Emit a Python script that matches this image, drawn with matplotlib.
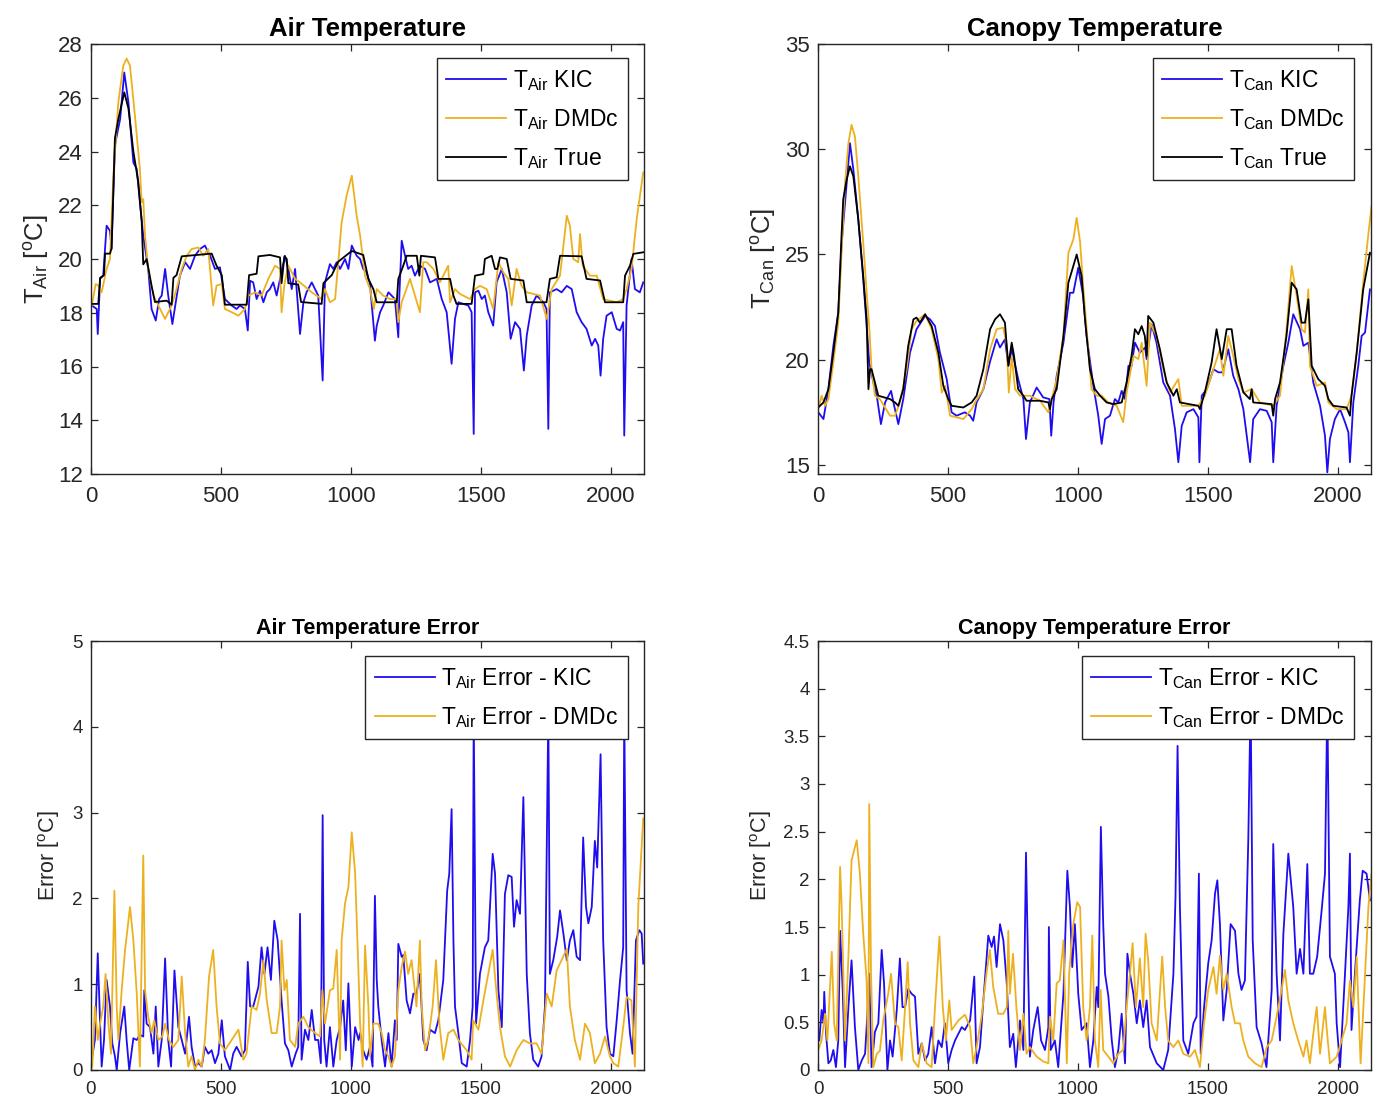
import numpy as np
import matplotlib
matplotlib.use('Agg')
import matplotlib.pyplot as plt

plt.rcParams['font.family'] = ['Liberation Sans', 'DejaVu Sans']
plt.rcParams['mathtext.fontset'] = 'custom'
plt.rcParams['mathtext.rm'] = 'Liberation Sans'

BLUE = '#1f0df0'
ORANGE = '#edb120'
AXC = '#262626'

# ---------------- air temperature ----------------
air_true_x = [0, 28, 35, 50, 54, 73, 79, 92, 105, 128, 144, 163, 182, 195, 201, 214, 233, 246, 291, 310, 317, 329, 349,
              464, 483, 503, 515, 599, 608, 637, 644, 688, 727, 733, 744, 753, 759, 797, 808, 887, 894, 926, 951, 1003,
              1047, 1067, 1086, 1099, 1176, 1182, 1201, 1214, 1253, 1263, 1269, 1323, 1336, 1381, 1394, 1406, 1464,
              1477, 1509, 1515, 1541, 1554, 1563, 1573, 1599, 1614, 1663, 1676, 1752, 1765, 1791, 1804, 1887, 1906,
              1958, 1977, 2047, 2054, 2073, 2086, 2124]
air_true = [18.33, 18.33, 19.3, 19.4, 20.2, 20.2, 20.4, 24.5, 25.2, 26.2, 25.6, 24.0, 22.85, 21.4, 19.8, 20.0, 19.0,
            18.4, 18.45, 18.3, 19.3, 19.4, 20.1, 20.2, 19.75, 19.4, 18.3, 18.3, 19.4, 19.45, 20.1, 20.15, 20.06, 19.1,
            20.1, 20.0, 19.1, 19.05, 18.4, 18.33, 19.1, 19.4, 19.9, 20.3, 20.15, 19.26, 18.88, 18.39, 18.39, 19.26,
            19.75, 20.12, 20.12, 19.38, 20.12, 20.06, 19.26, 19.26, 18.64, 18.33, 18.33, 19.38, 19.44, 20.0, 20.12,
            19.63, 19.63, 20.06, 20.0, 19.26, 19.2, 18.39, 18.39, 19.26, 19.32, 20.12, 20.1, 19.26, 19.2, 18.39, 18.39,
            19.38, 19.75, 20.19, 20.25]

air_kic_x = [3, 22, 26, 35, 47, 60, 73, 79, 92, 99, 112, 128, 144, 163, 176, 188, 201, 220, 233, 249, 262, 272, 285,
             297, 313, 326, 342, 362, 381, 400, 419, 438, 458, 477, 496, 515, 541, 560, 573, 592, 603, 612, 624, 637,
             650, 663, 676, 688, 701, 714, 727, 746, 759, 772, 785, 804, 817, 829, 849, 874, 891, 900, 919, 932, 945,
             958, 977, 990, 1003, 1022, 1035, 1047, 1060, 1073, 1092, 1099, 1112, 1124, 1144, 1156, 1169, 1182, 1186,
             1195, 1208, 1220, 1233, 1246, 1265, 1285, 1304, 1330, 1349, 1368, 1387, 1400, 1413, 1432, 1451, 1464,
             1472, 1477, 1490, 1503, 1515, 1528, 1547, 1560, 1580, 1599, 1614, 1631, 1650, 1665, 1676, 1695, 1714,
             1740, 1752, 1759, 1765, 1791, 1810, 1830, 1849, 1868, 1887, 1906, 1926, 1939, 1951, 1960, 1970, 1983,
             2003, 2022, 2035, 2047, 2051, 2060, 2079, 2092, 2111, 2124]
air_kic = [18.27, 18.14, 17.21, 19.26, 19.38, 21.24, 21.05, 20.37, 24.21, 24.58, 25.2, 26.94, 25.82, 23.59, 23.35,
           22.11, 20.87, 19.63, 18.14, 17.71, 18.51, 18.64, 19.63, 18.64, 17.58, 18.39, 19.38, 19.88, 19.63, 20.12,
           20.37, 20.5, 20.12, 19.63, 19.69, 18.51, 18.27, 18.14, 18.27, 18.14, 17.34, 19.19, 19.13, 18.51, 18.82,
           18.39, 18.76, 18.88, 19.13, 18.64, 19.26, 20.12, 19.63, 18.88, 19.63, 17.21, 18.39, 18.76, 19.13, 18.64,
           15.48, 19.13, 19.81, 19.63, 19.88, 19.63, 20.0, 19.63, 20.5, 20.12, 20.0, 19.63, 19.5, 19.07, 16.96, 17.52,
           18.02, 18.27, 18.76, 18.64, 18.51, 17.09, 18.64, 20.68, 20.12, 19.63, 19.75, 19.38, 19.75, 19.63, 19.13,
           19.26, 18.51, 18.02, 16.1, 17.77, 18.39, 18.33, 18.27, 18.02, 13.49, 18.76, 18.82, 18.51, 18.64, 18.02,
           17.52, 19.13, 19.63, 18.76, 17.03, 17.65, 17.4, 15.85, 17.15, 18.27, 18.64, 18.39, 18.14, 13.68, 18.76,
           18.88, 18.76, 19.0, 18.88, 18.02, 17.65, 17.4, 16.78, 17.03, 16.78, 15.66, 17.03, 17.89, 18.02, 17.4,
           17.34, 17.65, 13.43, 18.27, 20.0, 18.88, 18.76, 19.13]

air_dmdc_x = [3, 18, 28, 41, 60, 73, 86, 105, 124, 137, 150, 169, 188, 195, 201, 208, 220, 240, 259, 285, 310, 329,
              349, 368, 387, 413, 432, 451, 470, 483, 503, 515, 541, 567, 592, 605, 631, 656, 682, 708, 727, 733, 744,
              759, 785, 804, 849, 887, 900, 919, 939, 964, 983, 1003, 1022, 1035, 1054, 1073, 1088, 1099, 1124, 1150,
              1176, 1182, 1195, 1227, 1246, 1265, 1278, 1291, 1317, 1342, 1374, 1381, 1400, 1419, 1458, 1477, 1496,
              1522, 1547, 1567, 1586, 1605, 1618, 1637, 1656, 1676, 1727, 1753, 1772, 1804, 1830, 1842, 1855, 1874,
              1881, 1891, 1919, 1945, 1970, 2022, 2047, 2060, 2079, 2099, 2124]
air_dmdc = [18.27, 19.07, 19.01, 18.76, 19.63, 20.0, 23.1, 25.82, 27.19, 27.46, 27.19, 25.33, 23.35, 22.11, 22.23,
            20.87, 19.63, 18.64, 18.27, 17.77, 18.27, 18.88, 19.63, 20.12, 20.37, 20.43, 20.12, 20.37, 18.27, 19.01,
            19.07, 18.14, 18.02, 17.89, 18.14, 18.64, 18.76, 18.64, 19.26, 19.75, 19.63, 18.02, 19.07, 19.75, 19.26,
            19.13, 18.76, 18.51, 18.88, 18.39, 18.51, 21.36, 22.35, 23.1, 21.6, 20.87, 19.38, 18.88, 18.14, 18.88,
            18.64, 18.51, 18.51, 17.65, 18.39, 19.26, 18.64, 18.02, 19.88, 19.88, 19.63, 19.13, 19.75, 18.39, 18.88,
            18.7, 18.51, 18.88, 19.0, 18.88, 18.14, 19.88, 19.5, 19.26, 18.27, 19.63, 19.0, 18.76, 18.64, 17.77,
            18.88, 19.38, 21.61, 21.24, 20.0, 19.88, 20.93, 19.75, 19.38, 19.38, 18.51, 18.39, 18.51, 18.88, 19.63,
            21.49, 23.22]

# ---------------- canopy temperature ----------------
can_true_x = [1, 21, 40, 59, 78, 91, 97, 110, 123, 136, 155, 174, 187, 194, 200, 206, 219, 232, 277, 296, 309, 328,
              347, 367, 379, 392, 412, 437, 463, 482, 501, 514, 559, 591, 610, 636, 662, 681, 700, 719, 732, 745, 754,
              770, 790, 802, 854, 886, 892, 899, 918, 944, 963, 982, 995, 1014, 1027, 1046, 1065, 1085, 1110, 1136,
              1168, 1187, 1206, 1219, 1232, 1245, 1257, 1264, 1270, 1290, 1315, 1341, 1367, 1380, 1392, 1463, 1469,
              1488, 1514, 1533, 1553, 1572, 1591, 1610, 1636, 1661, 1668, 1674, 1745, 1751, 1758, 1777, 1802, 1822,
              1841, 1860, 1873, 1886, 1899, 1924, 1950, 1963, 1982, 2033, 2046, 2052, 2072, 2097, 2123]
can_true = [17.73, 17.97, 18.6, 20.34, 22.24, 26.03, 27.61, 28.55, 29.19, 28.71, 26.66, 23.97, 21.92, 18.6, 19.55,
            19.55, 18.92, 18.29, 18.13, 17.97, 17.81, 18.6, 20.66, 21.92, 22.0, 21.76, 22.16, 21.6, 20.34, 18.76,
            18.13, 17.81, 17.73, 17.97, 18.29, 19.55, 21.45, 21.92, 22.16, 21.76, 19.71, 20.81, 20.18, 18.6, 18.29,
            18.05, 18.05, 17.97, 17.65, 18.13, 18.6, 21.13, 23.66, 24.45, 25.0, 23.97, 21.92, 19.55, 18.6, 18.29,
            17.97, 17.89, 17.97, 18.92, 20.18, 21.45, 21.21, 21.6, 21.13, 20.18, 22.08, 21.76, 20.5, 18.92, 18.29,
            18.6, 17.97, 17.81, 17.65, 18.45, 19.87, 21.45, 20.03, 21.45, 21.45, 19.71, 18.45, 18.13, 18.6, 17.97,
            17.89, 17.34, 18.13, 18.92, 21.13, 23.66, 23.34, 21.76, 21.76, 22.87, 19.71, 19.08, 18.76, 18.13, 17.81,
            17.73, 17.34, 18.29, 20.34, 23.34, 25.08]

can_kic_x = [1, 21, 40, 59, 78, 91, 104, 123, 136, 155, 174, 190, 197, 213, 226, 242, 258, 281, 293, 309, 328, 354,
             379, 412, 431, 450, 469, 495, 514, 533, 565, 585, 597, 610, 636, 662, 687, 700, 719, 732, 745, 770, 790,
             800, 815, 841, 866, 890, 897, 906, 918, 944, 969, 982, 1001, 1020, 1033, 1059, 1078, 1091, 1104, 1123,
             1142, 1155, 1168, 1181, 1194, 1206, 1219, 1238, 1258, 1264, 1283, 1302, 1328, 1354, 1373, 1386, 1399,
             1418, 1444, 1463, 1467, 1476, 1495, 1521, 1540, 1556, 1578, 1597, 1617, 1636, 1662, 1674, 1700, 1726,
             1745, 1751, 1764, 1790, 1809, 1828, 1854, 1867, 1886, 1905, 1931, 1950, 1959, 1969, 1988, 2008, 2027,
             2040, 2046, 2059, 2078, 2091, 2104, 2123]
can_kic = [17.5, 17.18, 18.6, 20.66, 22.24, 25.55, 27.45, 30.29, 29.03, 26.66, 23.82, 21.13, 19.87, 18.92, 18.29,
           16.94, 17.97, 18.52, 17.81, 16.94, 18.13, 20.34, 21.45, 22.08, 21.92, 21.6, 20.34, 19.08, 17.5, 17.34,
           17.5, 17.34, 17.1, 17.97, 18.6, 19.92, 20.97, 20.58, 20.97, 19.71, 20.5, 19.08, 18.13, 16.23, 17.97, 18.68,
           18.21, 18.13, 16.39, 17.97, 19.23, 20.81, 23.18, 23.18, 24.37, 23.03, 21.13, 18.76, 17.34, 16.0, 17.18,
           17.34, 18.13, 17.97, 18.52, 18.13, 19.71, 19.71, 20.81, 20.34, 20.58, 20.03, 21.68, 20.81, 18.92, 18.29,
           16.71, 15.13, 16.86, 17.5, 17.65, 17.26, 15.13, 18.29, 18.6, 19.55, 19.4, 19.4, 20.5, 19.24, 18.6, 17.65,
           15.13, 17.18, 17.65, 17.57, 17.03, 15.13, 17.81, 19.71, 20.81, 22.16, 21.45, 20.66, 20.81, 18.92, 17.81,
           16.39, 14.65, 16.23, 17.18, 17.65, 17.03, 16.55, 15.13, 17.97, 19.71, 21.13, 21.29, 23.34]

can_dmdc_x = [1, 14, 27, 40, 59, 78, 91, 104, 117, 129, 142, 155, 174, 190, 197, 206, 219, 238, 277, 296, 315, 341,
              360, 379, 412, 437, 463, 476, 489, 508, 559, 591, 604, 636, 662, 687, 713, 726, 734, 745, 758, 777, 815,
              854, 886, 918, 944, 963, 982, 995, 1008, 1020, 1033, 1052, 1072, 1091, 1117, 1149, 1174, 1187, 1213,
              1232, 1245, 1264, 1277, 1302, 1328, 1354, 1386, 1399, 1463, 1488, 1521, 1546, 1559, 1578, 1597, 1617,
              1636, 1668, 1700, 1751, 1777, 1802, 1822, 1841, 1860, 1873, 1886, 1892, 1918, 1950, 1963, 1995, 2033,
              2052, 2072, 2097, 2116, 2129]
can_dmdc = [17.65, 18.29, 17.81, 18.13, 19.87, 21.76, 25.24, 28.4, 30.29, 31.16, 30.61, 28.71, 25.55, 22.71, 21.6,
            19.55, 18.29, 18.13, 17.34, 17.34, 17.97, 19.55, 21.45, 21.84, 22.16, 21.45, 20.03, 18.44, 18.76, 17.34,
            17.18, 17.65, 17.97, 18.6, 20.5, 21.45, 21.52, 20.66, 18.44, 20.18, 18.6, 18.29, 18.29, 18.05, 17.5,
            19.08, 21.13, 25.08, 25.71, 26.74, 25.6, 23.5, 21.5, 18.6, 18.29, 18.29, 17.97, 17.81, 17.03, 18.44,
            20.18, 20.03, 20.81, 18.76, 21.76, 21.13, 19.55, 18.44, 19.08, 17.81, 17.81, 18.29, 19.55, 20.5, 19.24,
            21.13, 20.18, 19.08, 18.44, 18.6, 17.97, 17.81, 18.29, 21.45, 24.45, 23.03, 21.45, 21.29, 23.34, 19.71,
            18.76, 18.92, 17.97, 17.65, 17.65, 18.29, 20.34, 23.66, 25.87, 27.29]

# ---------------- air temperature error ----------------
air_err_kic_x = [5, 15, 26, 35, 41, 50, 60, 73, 82, 92, 99, 112, 128, 137, 147, 163, 176, 188, 201, 205, 214, 227,
                 240, 249, 259, 272, 285, 297, 308, 321, 336, 349, 362, 377, 387, 400, 413, 426, 438, 451, 464, 477,
                 490, 503, 515, 535, 547, 560, 579, 592, 603, 612, 624, 644, 656, 667, 679, 692, 705, 718, 733, 746,
                 759, 772, 787, 797, 804, 810, 823, 836, 849, 862, 874, 884, 891, 897, 906, 919, 932, 945, 958, 970,
                 980, 990, 1003, 1016, 1029, 1035, 1047, 1060, 1073, 1083, 1092, 1099, 1105, 1118, 1131, 1144, 1156,
                 1169, 1176, 1182, 1195, 1201, 1214, 1227, 1240, 1252, 1265, 1278, 1291, 1304, 1323, 1336, 1355, 1370,
                 1378, 1387, 1394, 1400, 1413, 1426, 1445, 1458, 1468, 1472, 1481, 1496, 1515, 1528, 1545, 1554, 1567,
                 1580, 1592, 1605, 1618, 1627, 1637, 1650, 1663, 1676, 1688, 1701, 1720, 1733, 1746, 1759, 1765, 1778,
                 1793, 1804, 1817, 1830, 1842, 1855, 1868, 1881, 1893, 1904, 1913, 1926, 1938, 1947, 1960, 1970, 1983,
                 1996, 2009, 2022, 2035, 2047, 2051, 2060, 2073, 2083, 2096, 2109, 2118, 2124]
air_err_kic = [0.16, 0.35, 1.36, 0.54, 0.04, 0.35, 1.05, 0.74, 0.31, 0.16, 0.0, 0.43, 0.74, 0.35, 0.0, 0.37, 0.35,
               0.41, 0.39, 0.93, 0.54, 0.5, 0.19, 0.74, 0.04, 0.35, 1.3, 0.35, 0.04, 1.16, 0.5, 0.35, 0.19, 0.62,
               0.27, 0.04, 0.08, 0.04, 0.27, 0.19, 0.23, 0.08, 0.19, 0.58, 0.16, 0.0, 0.19, 0.27, 0.16, 0.23, 1.26,
               0.74, 0.74, 0.97, 1.43, 1.12, 1.43, 1.05, 1.74, 1.51, 0.81, 0.31, 0.23, 0.04, 0.19, 0.27, 1.82, 0.12,
               0.47, 0.35, 0.7, 0.35, 0.35, 0.08, 2.97, 0.35, 0.04, 0.5, 0.04, 0.35, 0.5, 0.81, 0.23, 1.01, 0.04, 0.5,
               0.35, 0.43, 0.23, 0.12, 0.27, 0.04, 2.03, 1.05, 0.74, 0.35, 0.04, 0.43, 0.04, 0.58, 0.35, 1.47, 1.32,
               1.34, 0.81, 0.66, 0.89, 0.89, 1.12, 0.35, 0.23, 0.47, 0.43, 0.58, 1.05, 2.09, 2.29, 3.04, 1.51, 0.74,
               0.43, 0.08, 0.04, 0.35, 0.74, 4.2, 0.54, 1.12, 1.43, 1.51, 2.52, 2.29, 0.93, 0.5, 2.05, 2.27, 2.25,
               1.67, 1.98, 1.82, 3.18, 1.12, 0.43, 0.12, 0.04, 0.16, 0.74, 4.2, 1.12, 1.28, 1.55, 1.86, 1.59, 1.28,
               1.51, 1.63, 1.32, 1.28, 2.71, 1.9, 1.71, 1.9, 2.67, 2.36, 3.68, 1.51, 0.5, 0.19, 0.16, 0.58, 1.05,
               1.43, 4.2, 0.93, 0.43, 0.19, 1.51, 1.63, 1.59, 1.24]

air_err_dmdc_x = [5, 15, 26, 35, 47, 56, 67, 77, 90, 99, 105, 118, 131, 150, 163, 176, 188, 201, 208, 220, 233, 243,
                  259, 274, 285, 300, 317, 336, 349, 362, 374, 387, 400, 413, 426, 438, 454, 470, 483, 496, 515, 541,
                  567, 586, 598, 618, 637, 650, 663, 676, 695, 714, 727, 733, 744, 753, 765, 785, 797, 817, 836, 862,
                  881, 890, 900, 919, 932, 945, 958, 964, 977, 990, 1003, 1016, 1029, 1035, 1045, 1054, 1067, 1073,
                  1086, 1105, 1118, 1131, 1144, 1156, 1169, 1182, 1195, 1208, 1220, 1233, 1252, 1265, 1272, 1285,
                  1297, 1314, 1327, 1340, 1355, 1374, 1394, 1413, 1445, 1464, 1470, 1490, 1509, 1528, 1545, 1560,
                  1573, 1592, 1612, 1637, 1663, 1688, 1714, 1733, 1753, 1772, 1791, 1810, 1830, 1842, 1861, 1881,
                  1900, 1919, 1938, 1958, 1977, 1996, 2009, 2028, 2047, 2060, 2079, 2092, 2105, 2124]
air_err_dmdc = [0.04, 0.74, 0.35, 0.54, 0.74, 1.12, 0.54, 0.19, 2.09, 0.74, 0.35, 0.93, 1.4, 1.9, 1.51, 0.89, 0.04,
                2.5, 0.93, 0.62, 0.43, 0.58, 0.35, 0.39, 0.54, 0.35, 0.27, 0.35, 1.09, 0.43, 0.04, 0.16, 0.0, 0.12,
                0.04, 0.35, 1.09, 1.4, 0.74, 0.31, 0.23, 0.35, 0.47, 0.12, 0.19, 0.74, 0.7, 0.89, 1.28, 0.81, 0.43,
                0.43, 0.74, 1.51, 0.93, 1.05, 0.35, 0.27, 0.54, 0.62, 0.5, 0.43, 0.39, 0.93, 0.54, 0.93, 0.95, 1.4,
                0.12, 1.51, 1.94, 2.13, 2.77, 2.29, 1.12, 0.54, 0.04, 1.45, 0.74, 0.16, 0.54, 0.54, 0.43, 0.23, 0.16,
                0.04, 0.16, 0.93, 1.2, 1.38, 1.12, 1.28, 0.74, 1.51, 0.74, 0.23, 0.35, 0.74, 1.28, 0.54, 0.12, 0.43,
                0.47, 0.35, 0.23, 0.12, 0.58, 0.47, 0.81, 1.12, 1.4, 0.89, 0.5, 0.16, 0.04, 0.23, 0.35, 0.31, 0.31,
                0.19, 0.89, 0.74, 1.16, 1.28, 1.41, 0.74, 0.35, 0.12, 0.54, 0.43, 0.08, 0.19, 0.39, 0.16, 0.08, 0.04,
                0.5, 0.85, 0.81, 0.04, 1.9, 2.93]

# ---------------- canopy temperature error ----------------
can_err_kic_x = [5, 14, 21, 24, 31, 40, 49, 59, 69, 78, 85, 95, 104, 117, 129, 142, 155, 168, 181, 190, 197, 206,
                 219, 232, 245, 254, 267, 277, 287, 303, 315, 325, 335, 347, 360, 373, 386, 399, 412, 424, 437, 450,
                 463, 476, 488, 501, 514, 527, 540, 553, 565, 585, 601, 610, 623, 636, 655, 668, 677, 687, 700, 713,
                 726, 738, 751, 761, 777, 790, 800, 809, 815, 828, 845, 858, 873, 886, 888, 895, 911, 924, 944, 959,
                 969, 978, 988, 1001, 1014, 1033, 1046, 1059, 1072, 1078, 1088, 1097, 1104, 1117, 1130, 1142, 1155,
                 1168, 1181, 1190, 1200, 1213, 1226, 1238, 1251, 1264, 1277, 1303, 1328, 1347, 1367, 1375, 1383,
                 1392, 1405, 1424, 1444, 1456, 1465, 1472, 1485, 1501, 1514, 1527, 1536, 1546, 1559, 1572, 1587,
                 1604, 1617, 1629, 1642, 1655, 1664, 1672, 1687, 1706, 1725, 1738, 1745, 1751, 1764, 1777, 1790,
                 1809, 1828, 1841, 1854, 1867, 1882, 1892, 1905, 1920, 1937, 1950, 1959, 1969, 1988, 1995, 2008,
                 2027, 2040, 2046, 2052, 2065, 2084, 2095, 2110, 2123]
can_err_kic = [0.31, 0.63, 0.49, 0.82, 0.38, 0.07, 0.1, 0.21, 0.03, 0.31, 1.46, 0.84, 0.03, 0.66, 1.15, 0.45, 0.0,
               0.1, 0.17, 0.59, 1.01, 0.03, 0.4, 0.49, 1.26, 0.91, 0.0, 0.31, 0.14, 0.63, 1.17, 0.66, 0.66, 0.85, 0.8,
               0.77, 0.17, 0.28, 0.1, 0.17, 0.45, 0.07, 0.31, 0.24, 0.49, 0.07, 0.21, 0.31, 0.38, 0.45, 0.42, 0.52,
               0.98, 0.07, 0.24, 0.73, 1.41, 1.29, 1.4, 1.08, 1.53, 1.36, 0.91, 0.24, 0.38, 0.03, 0.52, 0.21, 2.28,
               0.94, 0.14, 0.42, 0.66, 0.31, 0.21, 0.45, 1.5, 0.21, 0.31, 0.03, 0.8, 2.09, 1.71, 1.08, 1.53, 0.8, 0.42,
               0.49, 0.03, 0.31, 0.87, 0.66, 2.55, 1.53, 1.01, 0.77, 0.31, 0.03, 0.21, 0.59, 0.07, 1.22, 1.01, 0.8,
               0.49, 0.73, 0.45, 0.73, 0.24, 0.07, 0.0, 0.21, 1.01, 1.81, 3.4, 1.71, 0.31, 0.17, 0.49, 0.56, 2.06,
               0.17, 0.66, 1.12, 1.36, 1.85, 1.99, 1.53, 0.52, 0.84, 1.53, 1.46, 1.01, 0.84, 0.94, 2.41, 3.9, 1.36,
               0.45, 0.28, 0.03, 0.56, 0.84, 2.37, 1.01, 0.31, 1.43, 2.27, 1.71, 1.01, 1.27, 1.01, 2.16, 1.01, 1.01,
               1.19, 1.67, 2.06, 3.9, 1.19, 1.01, 0.49, 0.03, 1.01, 1.71, 2.27, 0.42, 1.01, 1.78, 2.09, 2.06, 1.78]

can_err_dmdc_x = [1, 14, 27, 36, 53, 62, 72, 85, 91, 104, 117, 129, 149, 161, 174, 187, 194, 197, 204, 213, 226,
                  238, 251, 270, 281, 296, 309, 322, 335, 345, 354, 367, 386, 399, 418, 437, 450, 467, 480, 492, 505,
                  514, 540, 565, 585, 597, 610, 629, 648, 661, 674, 693, 713, 726, 732, 738, 750, 763, 777, 790, 802,
                  815, 841, 866, 886, 892, 905, 918, 930, 944, 957, 966, 982, 997, 1008, 1020, 1033, 1046, 1055, 1065,
                  1078, 1087, 1097, 1117, 1136, 1155, 1174, 1187, 1200, 1210, 1223, 1238, 1251, 1260, 1270, 1283,
                  1303, 1324, 1335, 1347, 1367, 1386, 1405, 1431, 1450, 1469, 1485, 1501, 1521, 1533, 1546, 1559,
                  1572, 1591, 1604, 1623, 1636, 1655, 1681, 1706, 1726, 1745, 1764, 1783, 1796, 1809, 1828, 1847,
                  1867, 1879, 1892, 1905, 1918, 1931, 1950, 1956, 1969, 1995, 2014, 2033, 2046, 2059, 2072, 2087,
                  2104, 2117, 2129]
can_err_dmdc = [0.21, 0.31, 0.59, 0.31, 1.24, 0.49, 0.31, 2.13, 1.71, 0.31, 1.19, 2.2, 2.41, 2.06, 1.43, 0.94, 0.07,
                2.79, 1.01, 0.03, 0.17, 0.2, 0.52, 0.8, 1.01, 0.49, 0.45, 0.1, 0.66, 1.13, 0.49, 0.1, 0.03, 0.28,
                0.07, 0.03, 0.66, 1.4, 0.66, 0.31, 0.73, 0.42, 0.52, 0.58, 0.45, 0.07, 0.24, 0.56, 1.01, 1.26, 0.87,
                0.59, 0.59, 0.66, 1.46, 0.8, 1.22, 0.66, 0.21, 0.59, 0.17, 0.24, 0.14, 0.09, 0.07, 0.56, 0.31, 0.91,
                0.94, 1.36, 0.07, 1.01, 1.53, 1.76, 1.71, 0.66, 0.31, 0.66, 1.41, 0.31, 0.03, 0.84, 0.21, 0.14, 0.07,
                0.17, 0.21, 0.66, 1.01, 1.33, 0.66, 1.17, 0.66, 1.43, 1.15, 0.49, 0.31, 1.19, 0.66, 0.31, 0.24, 0.31,
                0.17, 0.14, 0.21, 0.03, 0.49, 0.84, 1.08, 0.8, 1.2, 0.84, 1.01, 0.66, 0.49, 0.49, 0.31, 0.14, 0.07,
                0.03, 0.24, 0.31, 0.56, 0.84, 1.05, 0.73, 0.49, 0.31, 0.14, 0.31, 0.07, 0.38, 0.66, 0.17, 0.66, 0.45,
                0.07, 0.14, 0.31, 0.49, 0.94, 0.66, 1.19, 0.07, 1.01, 1.71, 2.06]

x_ticks = [0, 500, 1000, 1500, 2000]
x_max = 2127


def style(ax, fs, xpad):
    ax.tick_params(direction='in', top=True, right=True, labelsize=fs, length=5, width=0.9,
                   color=AXC, labelcolor=AXC, pad=6)
    ax.tick_params(axis='x', pad=xpad)
    for s in ax.spines.values():
        s.set_color(AXC)
        s.set_linewidth(1.0)
    ax.set_xlim(0, x_max)
    ax.set_xticks(x_ticks)


def leg(ax, anchor, fs):
    l = ax.legend(loc='upper right', bbox_to_anchor=anchor, borderaxespad=0, fontsize=fs,
                  fancybox=False, framealpha=1, edgecolor=AXC, handlelength=2.6, handletextpad=0.3,
                  labelspacing=0.62, borderpad=0.42)
    l.get_frame().set_linewidth(1.0)
    l.set_zorder(10)


W, H = 1378, 1100
fig = plt.figure(figsize=(W / 100, H / 100), dpi=100)


def box(l, r, t, b):
    return [l / W, 1 - b / H, (r - l) / W, (b - t) / H]


ax1 = fig.add_axes(box(91, 644, 44, 474))
ax2 = fig.add_axes(box(818, 1371, 44, 474))
ax3 = fig.add_axes(box(91, 644, 641, 1070))
ax4 = fig.add_axes(box(818, 1371, 641, 1070))

lw = 1.3
sub_air = r'$\mathregular{T_{Air}}$'
sub_can = r'$\mathregular{T_{Can}}$'

ax1.plot(air_kic_x, air_kic, color=BLUE, lw=lw, label=sub_air + ' KIC')
ax1.plot(air_dmdc_x, air_dmdc, color=ORANGE, lw=lw, label=sub_air + ' DMDc')
ax1.plot(air_true_x, air_true, color='black', lw=lw, label=sub_air + ' True')
style(ax1, 16, 9)
ax1.set_ylim(12, 28)
ax1.set_yticks(range(12, 29, 2))
ax1.set_title('Air Temperature', fontsize=18.5, fontweight='bold', pad=6)
ax1.set_ylabel(r'$\mathregular{T_{Air}}$ [$\mathregular{^oC}$]', fontsize=18.5, color=AXC, labelpad=5)
leg(ax1, ((628 - 91) / 553, 1 - 14 / 430), 16.5)

ax2.plot(can_kic_x, can_kic, color=BLUE, lw=lw, label=sub_can + ' KIC')
ax2.plot(can_dmdc_x, can_dmdc, color=ORANGE, lw=lw, label=sub_can + ' DMDc')
ax2.plot(can_true_x, can_true, color='black', lw=lw, label=sub_can + ' True')
style(ax2, 16, 9)
ax2.set_ylim(14.57, 35)
ax2.set_yticks([15, 20, 25, 30, 35])
ax2.set_title('Canopy Temperature', fontsize=18.5, fontweight='bold', pad=6)
ax2.set_ylabel(r'$\mathregular{T_{Can}}$ [$\mathregular{^oC}$]', fontsize=18.5, color=AXC, labelpad=5)
leg(ax2, ((1354 - 818) / 553, 1 - 14 / 430), 16.5)

ax3.plot(air_err_kic_x, air_err_kic, color=BLUE, lw=lw, label=sub_air + ' Error - KIC')
ax3.plot(air_err_dmdc_x, air_err_dmdc, color=ORANGE, lw=lw, label=sub_air + ' Error - DMDc')
style(ax3, 13.5, 8)
ax3.set_ylim(0, 5)
ax3.set_yticks([0, 1, 2, 3, 4, 5])
ax3.set_title('Air Temperature Error', fontsize=15.5, fontweight='bold', pad=5)
ax3.set_ylabel(r'Error [$\mathregular{^oC}$]', fontsize=15.5, color=AXC, labelpad=7)
leg(ax3, ((628 - 91) / 553, 1 - 15 / 429), 16.5)

ax4.plot(can_err_kic_x, can_err_kic, color=BLUE, lw=lw, label=sub_can + ' Error - KIC')
ax4.plot(can_err_dmdc_x, can_err_dmdc, color=ORANGE, lw=lw, label=sub_can + ' Error - DMDc')
style(ax4, 13.5, 8)
ax4.set_ylim(0, 4.5)
ax4.set_yticks(np.arange(0, 4.6, 0.5))
ax4.set_yticklabels(['0', '0.5', '1', '1.5', '2', '2.5', '3', '3.5', '4', '4.5'])
ax4.set_title('Canopy Temperature Error', fontsize=15.5, fontweight='bold', pad=5)
ax4.set_ylabel(r'Error [$\mathregular{^oC}$]', fontsize=15.5, color=AXC, labelpad=7)
leg(ax4, ((1354 - 818) / 553, 1 - 15 / 429), 16.5)

fig.savefig('out.png', dpi=100)
